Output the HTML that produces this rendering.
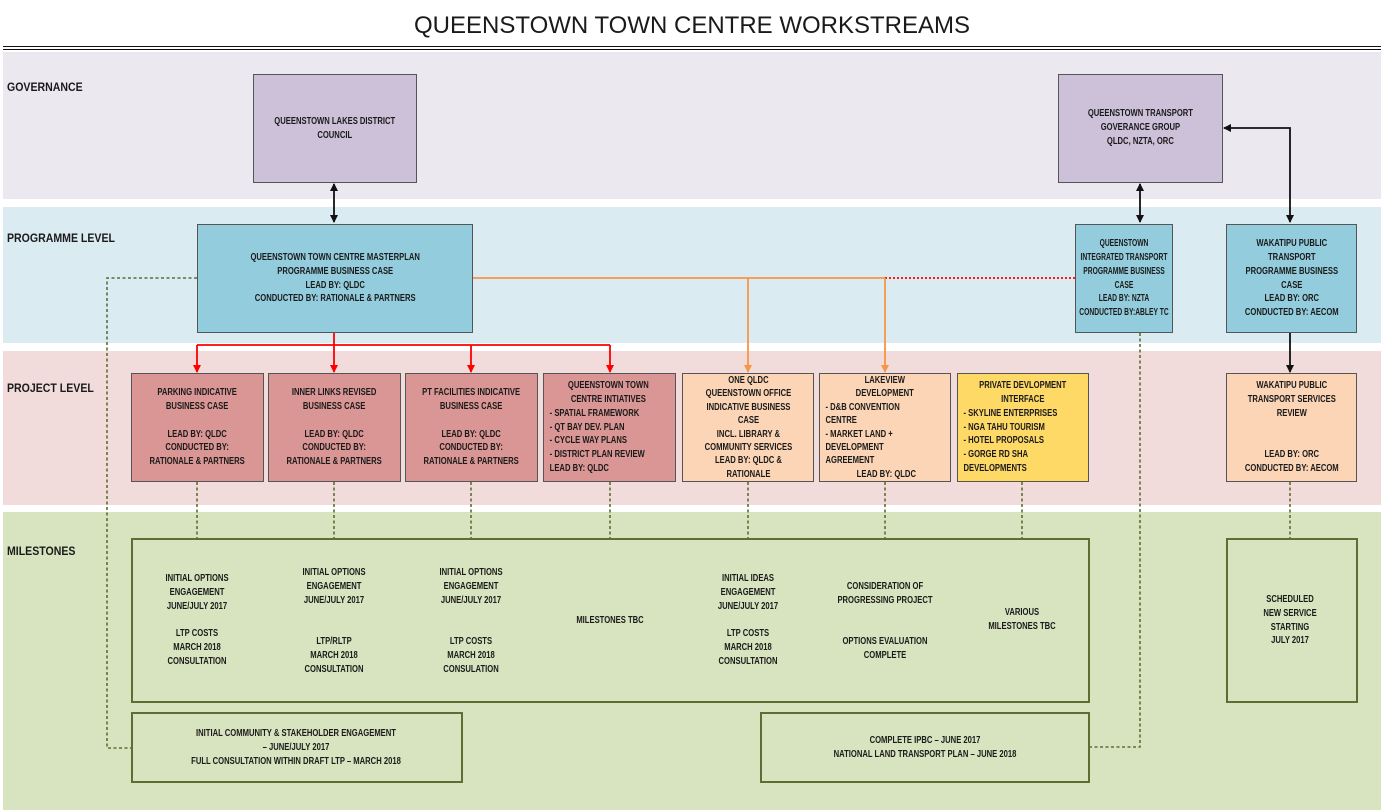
<!DOCTYPE html>
<html><head><meta charset="utf-8"><style>
*{margin:0;padding:0;box-sizing:border-box}
body{width:1381px;height:810px;background:#fff;position:relative;overflow:hidden;font-family:"Liberation Sans",sans-serif;color:#1a1a1a}
.band{position:absolute;left:3px;right:0}
.lbl{position:absolute;left:7px;font-size:12px;font-weight:bold;transform:scaleX(.88);transform-origin:left}
.b{position:absolute;border:1.5px solid #555;display:flex;align-items:center;justify-content:center;overflow:visible}
.t{flex-shrink:0;width:133%;transform:scaleX(.75);font-size:10.2px;font-weight:bold;line-height:13.8px;text-align:center;white-space:nowrap}
.m{position:absolute;border:2px solid #5c6e33}
.mt{position:absolute;font-size:10.2px;font-weight:bold;line-height:13.8px;text-align:center;white-space:nowrap;transform:translateX(-50%) scaleX(.75)}
svg{position:absolute;left:0;top:0}
</style></head><body>
<div style="position:absolute;left:0;width:1381px;top:12px;text-align:center;font-size:24px"><span style="display:inline-block;margin-left:3px">QUEENSTOWN TOWN CENTRE WORKSTREAMS</span></div>
<div style="position:absolute;left:3px;right:0;top:46px;height:4px;border-top:1.5px solid #111;border-bottom:1.5px solid #111"></div>

<div class="band" style="top:52px;height:147px;background:#ECE8F0"></div>
<div class="band" style="top:207px;height:136px;background:#DBEBF2"></div>
<div class="band" style="top:351px;height:154px;background:#F1DCDB"></div>
<div class="band" style="top:512px;height:298px;background:#D8E4BF"></div>
<div class="lbl" style="top:80px">GOVERNANCE</div>
<div class="lbl" style="top:231px">PROGRAMME LEVEL</div>
<div class="lbl" style="top:381px">PROJECT LEVEL</div>
<div class="lbl" style="top:544px">MILESTONES</div>

<svg width="1381" height="810">
<defs>
<marker id="ak" markerWidth="8" markerHeight="8" refX="7" refY="4" orient="auto-start-reverse" markerUnits="userSpaceOnUse"><path d="M0,0L8,4L0,8z" fill="#111"/></marker>
<marker id="ar" markerWidth="8" markerHeight="8" refX="7" refY="4" orient="auto" markerUnits="userSpaceOnUse"><path d="M0,0L8,4L0,8z" fill="#f00"/></marker>
<marker id="ao" markerWidth="8" markerHeight="8" refX="7" refY="4" orient="auto" markerUnits="userSpaceOnUse"><path d="M0,0L8,4L0,8z" fill="#F79646"/></marker>
</defs>
<g stroke="#111" stroke-width="1.8" fill="none">
<line x1="334" y1="184" x2="334" y2="222" marker-start="url(#ak)" marker-end="url(#ak)"/>
<line x1="1140" y1="184" x2="1140" y2="222" marker-start="url(#ak)" marker-end="url(#ak)"/>
<polyline points="1290,222 1290,128 1224,128" marker-start="url(#ak)" marker-end="url(#ak)"/>
<line x1="1290" y1="333" x2="1290" y2="372" marker-end="url(#ak)"/>
</g>
<g stroke="#f00" stroke-width="1.8" fill="none">
<line x1="334" y1="333" x2="334" y2="345"/>
<line x1="197" y1="345" x2="610" y2="345"/>
<line x1="197" y1="345" x2="197" y2="372" marker-end="url(#ar)"/>
<line x1="334" y1="345" x2="334" y2="372" marker-end="url(#ar)"/>
<line x1="471" y1="345" x2="471" y2="372" marker-end="url(#ar)"/>
<line x1="610" y1="345" x2="610" y2="372" marker-end="url(#ar)"/>
<line x1="885" y1="278" x2="1075" y2="278" stroke-dasharray="2,2"/>
</g>
<g stroke="#F79646" stroke-width="1.8" fill="none">
<line x1="473" y1="278" x2="885" y2="278"/>
<line x1="748" y1="278" x2="748" y2="372" marker-end="url(#ao)"/>
<line x1="885" y1="278" x2="885" y2="372" marker-end="url(#ao)"/>
</g>
<g stroke="#5c6e33" stroke-width="1.6" fill="none" stroke-dasharray="3,2.5">
<polyline points="197,278 107,278 107,748 131,748"/>
<polyline points="1140,333 1140,747 1089,747"/>
<line x1="197" y1="482" x2="197" y2="538"/><line x1="334" y1="482" x2="334" y2="538"/>
<line x1="471" y1="482" x2="471" y2="538"/><line x1="610" y1="482" x2="610" y2="538"/>
<line x1="748" y1="482" x2="748" y2="538"/><line x1="885" y1="482" x2="885" y2="538"/>
<line x1="1022" y1="482" x2="1022" y2="538"/><line x1="1290" y1="482" x2="1290" y2="538"/>
</g>
</svg>

<div class="b" style="left:253px;top:74px;width:164px;height:109px;background:#CCC1D9;align-items:flex-start;padding-top:40px"><div class="t">QUEENSTOWN LAKES DISTRICT<br>COUNCIL</div></div>
<div class="b" style="left:1058px;top:74px;width:165px;height:109px;background:#CCC1D9;align-items:flex-start;padding-top:32px"><div class="t">QUEENSTOWN TRANSPORT<br>GOVERANCE GROUP<br>QLDC, NZTA, ORC</div></div>

<div class="b" style="left:197px;top:224px;width:276px;height:109px;background:#93CDDD"><div class="t">QUEENSTOWN TOWN CENTRE MASTERPLAN<br>PROGRAMME BUSINESS CASE<br>LEAD BY: QLDC<br>CONDUCTED BY: RATIONALE &amp; PARTNERS</div></div>
<div class="b" style="left:1075px;top:224px;width:98px;height:109px;background:#93CDDD"><div class="t" style="width:150%;transform:scaleX(.66)">QUEENSTOWN<br>INTEGRATED TRANSPORT<br>PROGRAMME BUSINESS<br>CASE<br>LEAD BY: NZTA<br>CONDUCTED BY:ABLEY TC</div></div>
<div class="b" style="left:1226px;top:224px;width:131px;height:109px;background:#93CDDD"><div class="t">WAKATIPU PUBLIC<br>TRANSPORT<br>PROGRAMME BUSINESS<br>CASE<br>LEAD BY: ORC<br>CONDUCTED BY: AECOM</div></div>

<div class="b" style="left:131px;top:373px;width:133px;height:109px;background:#D99694"><div class="t">PARKING INDICATIVE<br>BUSINESS CASE<br><br>LEAD BY: QLDC<br>CONDUCTED BY:<br>RATIONALE &amp; PARTNERS</div></div>
<div class="b" style="left:268px;top:373px;width:133px;height:109px;background:#D99694"><div class="t">INNER LINKS REVISED<br>BUSINESS CASE<br><br>LEAD BY: QLDC<br>CONDUCTED BY:<br>RATIONALE &amp; PARTNERS</div></div>
<div class="b" style="left:405px;top:373px;width:133px;height:109px;background:#D99694"><div class="t">PT FACILITIES INDICATIVE<br>BUSINESS CASE<br><br>LEAD BY: QLDC<br>CONDUCTED BY:<br>RATIONALE &amp; PARTNERS</div></div>
<div class="b" style="left:543px;top:373px;width:133px;height:109px;background:#D99694"><div class="t" style="text-align:left;padding-left:6%"><div style="text-align:center;margin-left:-6%">QUEENSTOWN TOWN<br>CENTRE INTIATIVES</div>- SPATIAL FRAMEWORK<br>- QT BAY DEV. PLAN<br>- CYCLE WAY PLANS<br>- DISTRICT PLAN REVIEW<br>LEAD BY: QLDC</div></div>
<div class="b" style="left:682px;top:373px;width:132px;height:109px;background:#FBD5B5"><div class="t" style="line-height:13.4px">ONE QLDC<br>QUEENSTOWN OFFICE<br>INDICATIVE BUSINESS<br>CASE<br>INCL. LIBRARY &amp;<br>COMMUNITY SERVICES<br>LEAD BY: QLDC &amp;<br>RATIONALE</div></div>
<div class="b" style="left:819px;top:373px;width:132px;height:109px;background:#FBD5B5"><div class="t" style="text-align:left;padding-left:5%;line-height:13.4px"><div style="text-align:center;margin-left:-5%">LAKEVIEW<br>DEVELOPMENT</div>- D&amp;B CONVENTION<br>CENTRE<br>- MARKET LAND +<br>DEVELOPMENT<br>AGREEMENT<br><span style="padding-left:25%">LEAD BY: QLDC</span></div></div>
<div class="b" style="left:957px;top:373px;width:132px;height:109px;background:#FFD966"><div class="t" style="text-align:left;padding-left:5%"><div style="text-align:center;margin-left:-5%">PRIVATE DEVLOPMENT<br>INTERFACE</div>- SKYLINE ENTERPRISES<br>- NGA TAHU TOURISM<br>- HOTEL PROPOSALS<br>- GORGE RD SHA<br>DEVELOPMENTS</div></div>
<div class="b" style="left:1226px;top:373px;width:131px;height:109px;background:#FBD5B5"><div class="t">WAKATIPU PUBLIC<br>TRANSPORT SERVICES<br>REVIEW<br><br><br>LEAD BY: ORC<br>CONDUCTED BY: AECOM</div></div>

<div class="m" style="left:131px;top:538px;width:959px;height:165px"></div>
<div class="m" style="left:1226px;top:538px;width:132px;height:165px"></div>
<div class="m" style="left:131px;top:712px;width:332px;height:71px"></div>
<div class="m" style="left:760px;top:712px;width:330px;height:71px"></div>

<div class="mt" style="left:197px;top:572px">INITIAL OPTIONS<br>ENGAGEMENT<br>JUNE/JULY 2017<br><br>LTP COSTS<br>MARCH 2018<br>CONSULTATION</div>
<div class="mt" style="left:334px;top:566px">INITIAL OPTIONS<br>ENGAGEMENT<br>JUNE/JULY 2017<br><br><br>LTP/RLTP<br>MARCH 2018<br>CONSULTATION</div>
<div class="mt" style="left:471px;top:566px">INITIAL OPTIONS<br>ENGAGEMENT<br>JUNE/JULY 2017<br><br><br>LTP COSTS<br>MARCH 2018<br>CONSULATION</div>
<div class="mt" style="left:610px;top:614px">MILESTONES TBC</div>
<div class="mt" style="left:748px;top:572px">INITIAL IDEAS<br>ENGAGEMENT<br>JUNE/JULY 2017<br><br>LTP COSTS<br>MARCH 2018<br>CONSULTATION</div>
<div class="mt" style="left:885px;top:580px">CONSIDERATION OF<br>PROGRESSING PROJECT<br><br><br>OPTIONS EVALUATION<br>COMPLETE</div>
<div class="mt" style="left:1022px;top:606px">VARIOUS<br>MILESTONES TBC</div>
<div class="mt" style="left:1290px;top:593px">SCHEDULED<br>NEW SERVICE<br>STARTING<br>JULY 2017</div>
<div class="mt" style="left:296px;top:727px">INITIAL COMMUNITY &amp; STAKEHOLDER ENGAGEMENT<br>– JUNE/JULY 2017<br>FULL CONSULTATION WITHIN DRAFT LTP – MARCH 2018</div>
<div class="mt" style="left:925px;top:734px">COMPLETE IPBC – JUNE 2017<br>NATIONAL LAND TRANSPORT PLAN – JUNE 2018</div>
</body></html>
